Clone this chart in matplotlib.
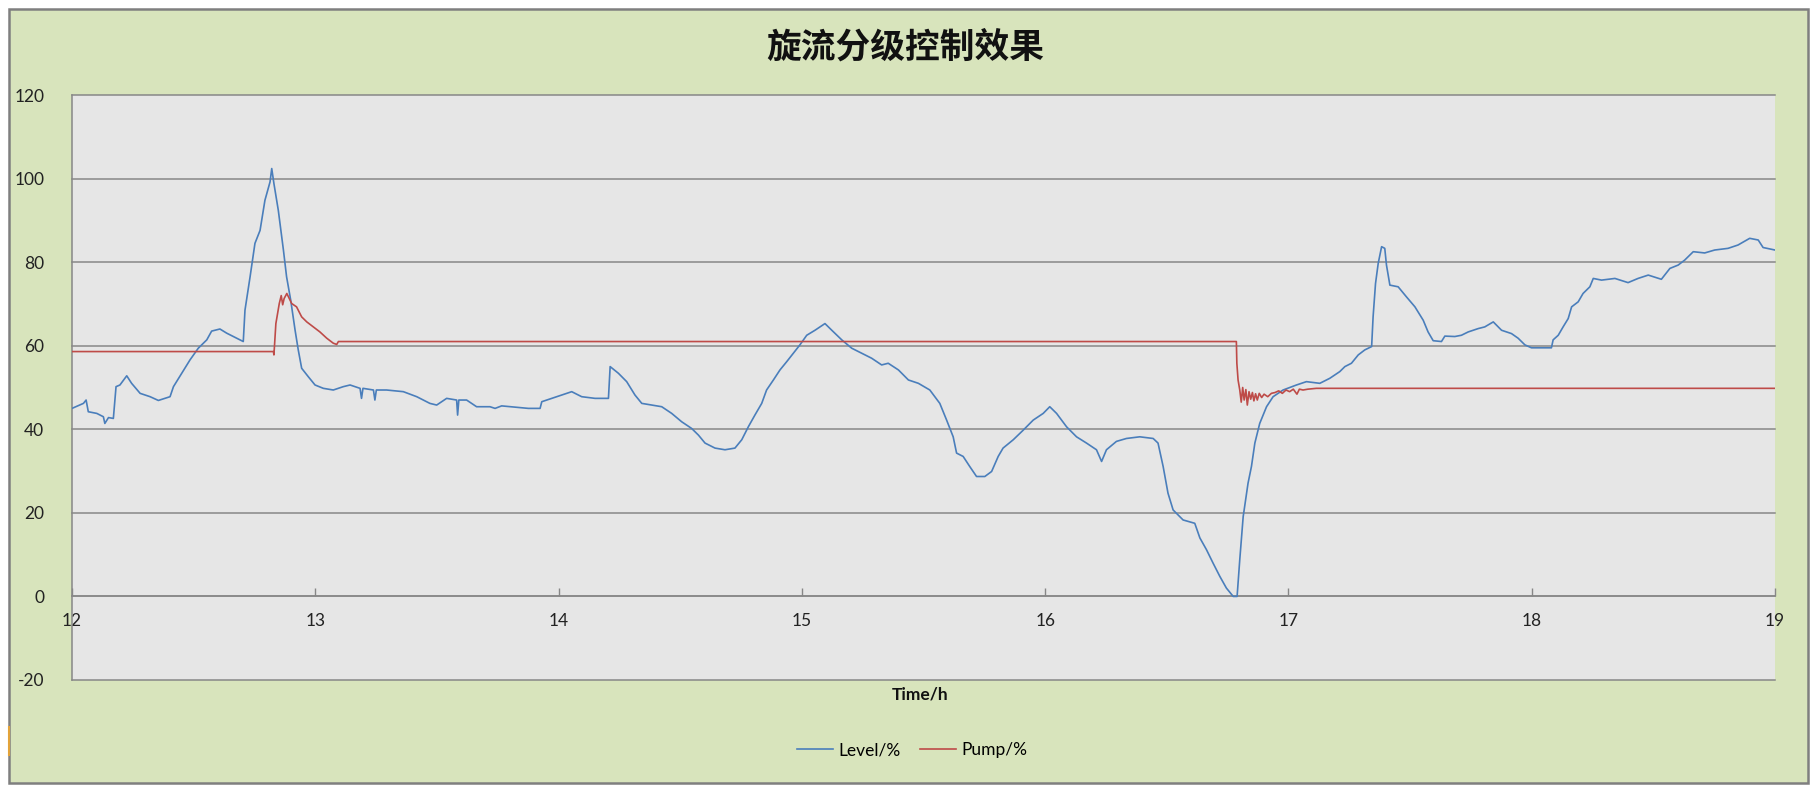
import matplotlib.pyplot as plt
from matplotlib.patches import Rectangle
from matplotlib.lines import Line2D

plt.rcParams['font.family'] = ['Lato', 'Noto Sans CJK SC', 'DejaVu Sans']

# === data (time in hours, values in %)
level_t = [12.000, 12.047, 12.058, 12.067, 12.102, 12.129, 12.135, 12.150, 12.170, 12.181,
           12.197, 12.225, 12.245, 12.280, 12.321, 12.355, 12.403, 12.417, 12.451, 12.485,
           12.519, 12.554, 12.574, 12.608, 12.636, 12.677, 12.704, 12.711, 12.732, 12.752,
           12.773, 12.793, 12.814, 12.821, 12.830, 12.848, 12.869, 12.882, 12.899, 12.917,
           12.930, 12.944, 12.971, 12.999, 13.033, 13.074, 13.115, 13.143, 13.184, 13.190,
           13.196, 13.239, 13.245, 13.251, 13.293, 13.362, 13.417, 13.471, 13.499, 13.540,
           13.581, 13.585, 13.590, 13.622, 13.663, 13.718, 13.739, 13.766, 13.821, 13.876,
           13.924, 13.931, 13.972, 14.013, 14.054, 14.095, 14.150, 14.205, 14.212, 14.246,
           14.280, 14.314, 14.342, 14.383, 14.424, 14.465, 14.506, 14.547, 14.575, 14.602,
           14.643, 14.684, 14.725, 14.753, 14.780, 14.807, 14.835, 14.855, 14.883, 14.910,
           14.938, 14.965, 14.992, 15.020, 15.054, 15.095, 15.123, 15.164, 15.205, 15.246,
           15.287, 15.328, 15.355, 15.397, 15.438, 15.479, 15.526, 15.567, 15.595, 15.622,
           15.636, 15.663, 15.690, 15.718, 15.752, 15.780, 15.807, 15.827, 15.869, 15.910,
           15.951, 15.992, 16.019, 16.047, 16.088, 16.129, 16.170, 16.211, 16.232, 16.252,
           16.293, 16.334, 16.389, 16.444, 16.464, 16.485, 16.505, 16.526, 16.567, 16.615,
           16.636, 16.663, 16.690, 16.718, 16.745, 16.773, 16.789, 16.800, 16.814, 16.834,
           16.848, 16.862, 16.882, 16.910, 16.937, 16.978, 17.033, 17.074, 17.129, 17.170,
           17.211, 17.232, 17.259, 17.287, 17.314, 17.342, 17.348, 17.358, 17.369, 17.383,
           17.396, 17.403, 17.417, 17.451, 17.485, 17.520, 17.554, 17.574, 17.595, 17.629,
           17.643, 17.684, 17.711, 17.739, 17.780, 17.807, 17.842, 17.876, 17.917, 17.944,
           17.972, 17.999, 18.081, 18.088, 18.109, 18.129, 18.150, 18.164, 18.191, 18.211,
           18.239, 18.253, 18.287, 18.342, 18.396, 18.437, 18.479, 18.533, 18.568, 18.602,
           18.629, 18.664, 18.711, 18.752, 18.807, 18.848, 18.896, 18.931, 18.951, 19.000]
level_v = [45.0, 46.2, 47.0, 44.2, 43.8, 43.0, 41.4, 42.8, 42.6, 50.2,
           50.6, 52.8, 51.0, 48.6, 47.8, 46.9, 47.8, 50.2, 53.4, 56.6,
           59.4, 61.4, 63.5, 64.0, 63.0, 61.8, 61.0, 68.5, 76.5, 84.5,
           87.6, 94.8, 99.2, 102.4, 98.8, 92.4, 82.9, 76.5, 70.9, 63.7,
           59.0, 54.6, 52.6, 50.6, 49.8, 49.4, 50.2, 50.6, 49.8, 47.4,
           49.8, 49.4, 47.0, 49.4, 49.4, 49.0, 47.8, 46.2, 45.8, 47.4,
           47.0, 43.4, 47.0, 47.0, 45.4, 45.4, 45.0, 45.6, 45.3, 45.0,
           45.0, 46.6, 47.4, 48.2, 49.0, 47.8, 47.4, 47.4, 55.0, 53.4,
           51.4, 48.2, 46.2, 45.8, 45.4, 43.8, 41.8, 40.2, 38.6, 36.7,
           35.5, 35.1, 35.5, 37.5, 40.6, 43.4, 46.2, 49.4, 51.8, 54.2,
           56.2, 58.2, 60.2, 62.5, 63.7, 65.3, 63.7, 61.4, 59.4, 58.2,
           57.0, 55.4, 55.8, 54.2, 51.8, 51.0, 49.4, 46.2, 42.2, 38.2,
           34.3, 33.5, 31.1, 28.7, 28.7, 29.9, 33.5, 35.5, 37.5, 39.8,
           42.2, 43.8, 45.4, 43.8, 40.6, 38.2, 36.7, 35.1, 32.3, 35.1,
           37.1, 37.8, 38.2, 37.8, 36.7, 31.1, 24.7, 20.7, 18.3, 17.5,
           14.0, 11.2, 8.0, 4.8, 2.0, 0.0, 0.0, 8.8, 19.1, 27.1,
           31.1, 36.7, 41.4, 45.4, 47.8, 49.4, 50.6, 51.4, 51.0, 52.2,
           53.8, 55.0, 55.8, 57.8, 59.0, 59.8, 66.9, 74.9, 79.7, 83.7,
           83.3, 79.3, 74.5, 74.1, 71.7, 69.3, 66.1, 63.3, 61.2, 61.0,
           62.3, 62.2, 62.5, 63.3, 64.1, 64.5, 65.7, 63.7, 62.9, 61.8,
           60.2, 59.5, 59.5, 61.4, 62.5, 64.5, 66.5, 69.3, 70.5, 72.5,
           74.1, 76.1, 75.7, 76.1, 75.1, 76.1, 76.9, 75.9, 78.5, 79.3,
           80.5, 82.5, 82.2, 82.9, 83.3, 84.1, 85.7, 85.3, 83.5, 82.9]

pump_t = [12.000, 12.828, 12.830, 12.838, 12.852, 12.860, 12.866, 12.872, 12.883, 12.903,
          12.923, 12.944, 12.965, 12.992, 13.019, 13.047, 13.074, 13.088, 13.095, 16.786,
          16.788, 16.793, 16.800, 16.806, 16.812, 16.818, 16.825, 16.831, 16.838, 16.845,
          16.852, 16.858, 16.865, 16.872, 16.880, 16.890, 16.900, 16.915, 16.930, 16.945,
          16.960, 16.975, 16.990, 17.005, 17.020, 17.035, 17.045, 17.060, 17.080, 17.115,
          19.000]
pump_v = [58.6, 58.6, 57.8, 65.3, 70.1, 72.0, 69.8, 71.3, 72.5, 70.1,
          69.3, 66.9, 65.7, 64.5, 63.3, 61.8, 60.6, 60.3, 61.0, 61.0,
          55.8, 51.8, 49.4, 46.5, 50.0, 47.0, 49.5, 45.8, 49.0, 47.2,
          48.8, 46.8, 48.5, 47.0, 48.6, 47.6, 48.4, 47.8, 48.6, 48.8,
          49.2, 48.6, 49.4, 49.0, 49.6, 48.4, 49.6, 49.4, 49.6, 49.8,
          49.8]

x_ticks = [12, 13, 14, 15, 16, 17, 18, 19]
y_ticks = [-20, 0, 20, 40, 60, 80, 100, 120]

GREEN = '#D8E4BC'
GRID = '#878787'

fig = plt.figure(figsize=(18.15, 7.88), dpi=100)
fig.patch.set_facecolor('white')
fig.add_artist(Rectangle((9/1815, 5/788), 1799/1815, 774/788, transform=fig.transFigure,
                         facecolor=GREEN, edgecolor='#7F7F7F', lw=1.8, zorder=0))
fig.add_artist(Line2D([9/1815, 9/1815], [33/788, 61/788], color='#E3A33A', lw=1.5))

ax = fig.add_axes([72/1815, 108/788, 1703/1815, 585/788])
ax.set_facecolor('#E6E6E6')

ax.plot(level_t, level_v, color='#4A7EBB', lw=1.2, label='Level/%', zorder=3)
ax.plot(pump_t, pump_v, color='#BE4B48', lw=1.2, label='Pump/%', zorder=3)

ax.set_xlim(12, 19)
ax.set_ylim(-20, 120)
ax.set_xticks(x_ticks)
ax.set_yticks(y_ticks)
ax.set_yticklabels([str(v) for v in y_ticks])

# horizontal grid, incl. the edges at -20 and 120
for v in y_ticks:
    ax.axhline(v, color=GRID, lw=1.1, zorder=1, clip_on=False)

for s in ['top', 'right']:
    ax.spines[s].set_visible(False)
ax.spines['left'].set_color(GRID)
ax.spines['left'].set_linewidth(1.1)
ax.spines['bottom'].set_position(('data', 0))
ax.spines['bottom'].set_color(GRID)
ax.spines['bottom'].set_linewidth(1.1)

ax.tick_params(axis='x', direction='in', length=6, width=1, color=GRID,
               labelsize=12.5, pad=12, labelcolor='#222222')
ax.tick_params(axis='y', length=0, labelsize=12.5, pad=20, labelcolor='#222222')

fig.text(905/1815, 1 - 47/788, '旋流分级控制效果', ha='center', va='center',
         fontsize=25, fontweight='bold', family=['Noto Sans CJK SC', 'DejaVu Sans'],
         color='#111111')
fig.text(920/1815, 1 - 694/788, 'Time/h', ha='center', va='center',
         fontsize=12.5, fontweight='bold', color='#111111')

leg = fig.legend(loc='center', bbox_to_anchor=(912/1815, 1 - 750/788), ncol=2,
                 frameon=False, fontsize=12.5, handlelength=2.1, handletextpad=0.3,
                 columnspacing=1.1)

plt.savefig('out.png', dpi=100, facecolor=fig.get_facecolor())
